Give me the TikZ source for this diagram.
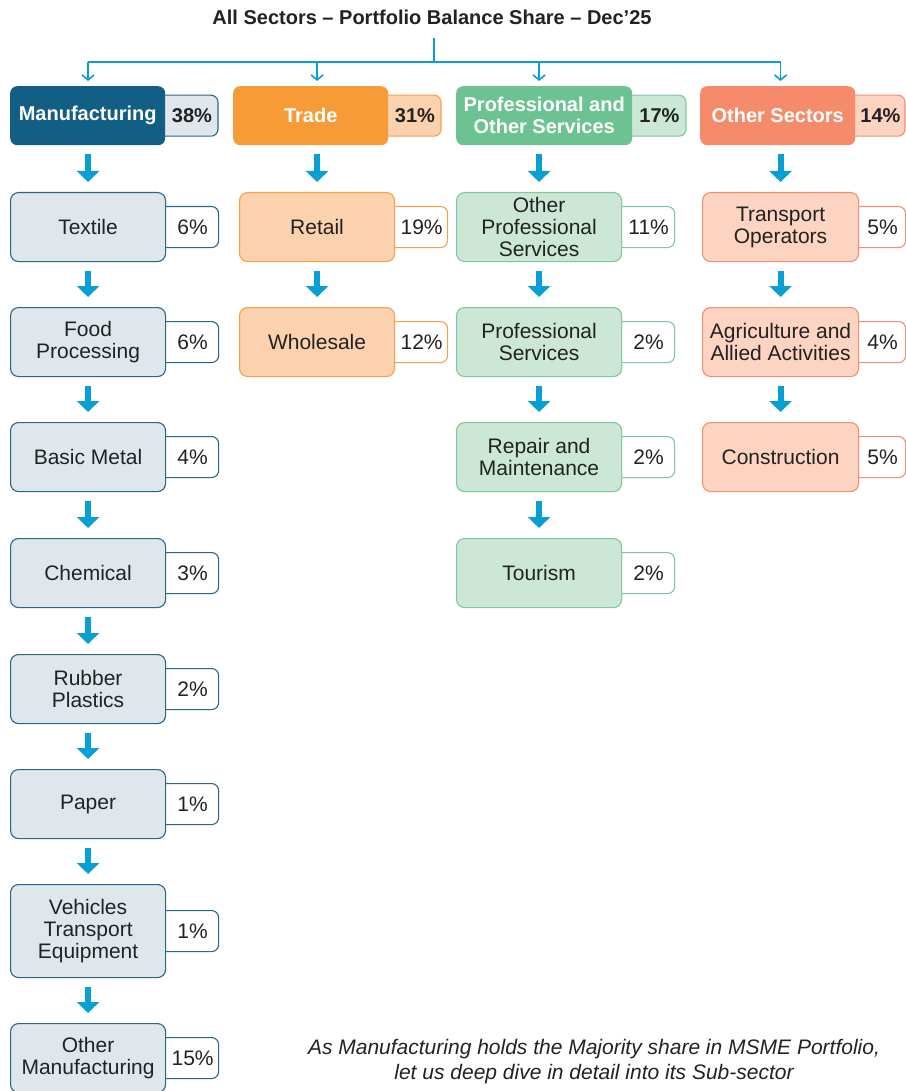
\documentclass[tikz,border=0pt]{standalone}
\usepackage{fontspec}
\setmainfont{Liberation Sans}
\usetikzlibrary{arrows.meta,calc}
\definecolor{txt}{HTML}{222222}
\definecolor{arr}{HTML}{079FD4}
\definecolor{mfgdark}{HTML}{135E84}
\definecolor{mfglight}{HTML}{DFE7ED}
\definecolor{mfgborder}{HTML}{2B6688}
\definecolor{trdark}{HTML}{F79A38}
\definecolor{trlight}{HTML}{FCD1AE}
\definecolor{trborder}{HTML}{F6A04B}
\definecolor{prdark}{HTML}{6CC391}
\definecolor{prlight}{HTML}{CCE7D6}
\definecolor{prborder}{HTML}{7DC89D}
\definecolor{otdark}{HTML}{F58B6B}
\definecolor{otlight}{HTML}{FDD3C2}
\definecolor{otborder}{HTML}{F28F72}
\pgfdeclarelayer{back}
\pgfdeclarelayer{bg}
\pgfsetlayers{back,bg,main}
\newcommand\mybox[8]{%
  \node[#2, minimum width=#6pt] (#1) at (#4,#5) {#7};
  \begin{pgfonlayer}{bg}
  \node[#3] (#1p) at ([xshift=-10pt]#1.east) {\hspace*{10pt}#8};
  \end{pgfonlayer}}
\begin{document}
\begin{tikzpicture}[x=1pt,y=-1pt,
  hdr/.style={rounded corners=7pt, minimum height=59pt, inner sep=0pt, text=white,
    font=\fontsize{20}{22}\selectfont\bfseries, align=center, anchor=north west},
  child/.style={rounded corners=8pt, minimum height=69pt, inner sep=0pt, text=txt,
    font=\fontsize{21}{22}\selectfont, align=center, anchor=north west, line width=1.1pt},
  pct/.style={rounded corners=7pt, minimum height=41pt, minimum width=62pt, inner sep=0pt,
    anchor=west, font=\fontsize{21}{22}\selectfont, text=txt, line width=1.1pt},
  hpct/.style={pct, font=\fontsize{20}{22}\selectfont\bfseries},
  mh/.style={hdr, fill=mfgdark},
  th/.style={hdr, fill=trdark},
  ph/.style={hdr, fill=prdark},
  oh/.style={hdr, fill=otdark},
  mc/.style={child, fill=mfglight, draw=mfgborder},
  tc/.style={child, fill=trlight, draw=trborder},
  pc/.style={child, fill=prlight, draw=prborder},
  oc/.style={child, fill=otlight, draw=otborder},
  mhp/.style={hpct, fill=mfglight, draw=mfgborder},
  thp/.style={hpct, fill=trlight, draw=trborder},
  php/.style={hpct, fill=prlight, draw=prborder, minimum width=63pt},
  ohp/.style={hpct, fill=otlight, draw=otborder, minimum width=59pt},
  mcp/.style={pct, fill=white, draw=mfgborder},
  tcp/.style={pct, fill=white, draw=trborder},
  pcp/.style={pct, fill=white, draw=prborder},
  ocp/.style={pct, fill=white, draw=otborder, minimum width=56pt},
  busline/.style={draw=arr, line width=1.6pt},
  thinarr/.style={draw=arr, line width=1.6pt, -{Straight Barb[length=5pt,width=12pt]}, shorten >=5pt},
  bigarr/.style={draw=arr, line width=6pt, -{Triangle[length=11pt,width=22pt]}, shorten <=9pt, shorten >=10pt}
]
\useasboundingbox (0,0) rectangle (905,1091);
\begin{pgfonlayer}{back}
\fill[white] (0,0) rectangle (905,1091);
\end{pgfonlayer}

\node[font=\fontsize{20}{22}\selectfont\bfseries, text=txt] (title) at (432,17)
  {All Sectors – Portfolio Balance Share – Dec’25};

% headers
\mybox{mh}{mh}{mhp}{10}{86}{155}{Manufacturing}{38\%}
\mybox{th}{th}{thp}{233}{86}{155}{Trade}{31\%}
\mybox{ph}{ph}{php}{456}{86}{176}{Professional and\\Other Services}{17\%}
\mybox{oh}{oh}{ohp}{700}{86}{155}{Other Sectors}{14\%}

% manufacturing
\mybox{m1}{mc}{mcp}{10}{192}{155}{Textile}{6\%}
\mybox{m2}{mc}{mcp}{10}{307}{155}{Food\\Processing}{6\%}
\mybox{m3}{mc}{mcp}{10}{422}{155}{Basic Metal}{4\%}
\mybox{m4}{mc}{mcp}{10}{538}{155}{Chemical}{3\%}
\mybox{m5}{mc}{mcp}{10}{654}{155}{Rubber\\Plastics}{2\%}
\mybox{m6}{mc}{mcp}{10}{769}{155}{Paper}{1\%}
\mybox{m7}{mc,minimum height=93pt}{mcp}{10}{884}{155}{Vehicles\\Transport\\Equipment}{1\%}
\mybox{m8}{mc}{mcp}{10}{1023}{155}{Other\\Manufacturing}{15\%}

% trade
\mybox{t1}{tc}{tcp}{239}{192}{155}{Retail}{19\%}
\mybox{t2}{tc}{tcp}{239}{307}{155}{Wholesale}{12\%}

% professional
\mybox{p1}{pc}{pcp}{456}{192}{165}{Other\\Professional\\Services}{11\%}
\mybox{p2}{pc}{pcp}{456}{307}{165}{Professional\\Services}{2\%}
\mybox{p3}{pc}{pcp}{456}{422}{165}{Repair and\\Maintenance}{2\%}
\mybox{p4}{pc}{pcp}{456}{538}{165}{Tourism}{2\%}

% other
\mybox{o1}{oc}{ocp}{702}{192}{156}{Transport\\Operators}{5\%}
\mybox{o2}{oc}{ocp}{702}{307}{156}{Agriculture and\\Allied Activities}{4\%}
\mybox{o3}{oc}{ocp}{702}{422}{156}{Construction}{5\%}

% bus
\coordinate (top) at (434,38);
\coordinate (bus) at (434,62);
\draw[busline] (top) -- (bus);
\draw[busline] (m1.north |- bus) -- (o1.north |- bus);
\foreach \h/\c in {mh/m1, th/t1, ph/p1, oh/o1}
  \draw[thinarr] (\c.north |- bus) -- (\h.north -| \c.north);

% thick arrows
\foreach \a/\b in {mh/m1, m1/m2, m2/m3, m3/m4, m4/m5, m5/m6, m6/m7, m7/m8,
                   th/t1, t1/t2, ph/p1, p1/p2, p2/p3, p3/p4, oh/o1, o1/o2, o2/o3}
  \draw[bigarr] (\a.south -| \b.north) -- (\b.north);

\node[font=\fontsize{21}{25}\selectfont\itshape, text=txt, align=center] (note) at (594,1062)
  {As Manufacturing holds the Majority share in MSME Portfolio,\\let us deep dive in detail into its Sub-sector};
\end{tikzpicture}
\end{document}
